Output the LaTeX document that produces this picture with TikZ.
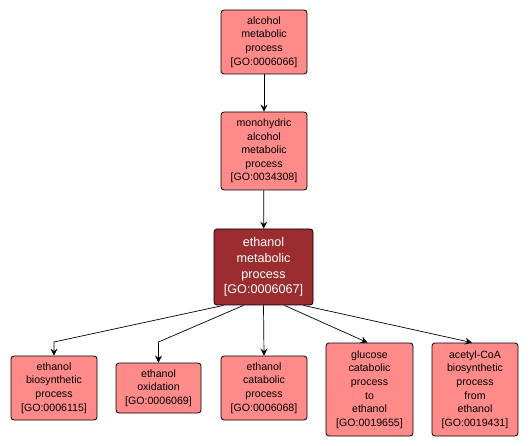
\documentclass[tikz,border=0pt]{standalone}
\usepackage{fontspec}
\setmainfont{Liberation Sans}
\usepackage{tikz}
\usetikzlibrary{arrows.meta, positioning, calc}

\definecolor{goLight}{RGB}{255,138,138}
\definecolor{goDark}{RGB}{155,45,48}

\begin{document}
\begin{tikzpicture}[x=1pt, y=-1pt, >=Stealth, line width=0.8pt,
  goterm/.style={draw=black, fill=goLight, rounded corners=3pt, align=center,
    inner sep=0pt, minimum width=86pt, font=\fontsize{10.6}{13.6}\selectfont},
  goself/.style={goterm, fill=goDark, text=white, minimum width=99pt,
    font=\fontsize{12.6}{15.6}\selectfont},
  arr/.style={-{Stealth[length=7pt, width=7pt, inset=2.5pt]}, line width=0.7pt}]
\useasboundingbox (0,0) rectangle (530,446);

% Ancestor terms
\node[goterm, minimum height=64pt] (alc) at (264,42) {alcohol\\metabolic\\process\\{}[GO:0006066]};
\node[goterm, minimum height=78pt] (mono) at (264,151) {monohydric\\alcohol\\metabolic\\process\\{}[GO:0034308]};

% Selected term
\node[goself, minimum height=76pt] (emp) at (263.5,267) {ethanol\\metabolic\\process\\{}[GO:0006067]};

% Child terms
\node[goterm, minimum height=64pt] (bio) at (54,388) {ethanol\\biosynthetic\\process\\{}[GO:0006115]};
\node[goterm, minimum width=85pt, minimum height=50pt] (oxi) at (158.5,388) {ethanol\\oxidation\\{}[GO:0006069]};
\node[goterm, minimum height=64pt] (cat) at (264,388) {ethanol\\catabolic\\process\\{}[GO:0006068]};
\node[goterm, minimum width=87pt, minimum height=93pt] (glu) at (369.5,389.5) {glucose\\catabolic\\process\\to\\ethanol\\{}[GO:0019655]};
\node[goterm, minimum height=93pt] (ace) at (475,389.5) {acetyl-CoA\\biosynthetic\\process\\from\\ethanol\\{}[GO:0019431]};

% Bends of the two left edges
\coordinate (bioBend) at (54,342);
\coordinate (oxiBend) at (158.5,342);

% Edges
\draw[arr] (alc) -- (mono);
\draw[arr] (mono) -- (emp);
\draw[arr] ([xshift=-40pt]emp.south) -- (bioBend) -- (bio.north);
\draw[arr] ([xshift=-20pt]emp.south) -- (oxiBend) -- (oxi.north);
\draw[arr] (emp.south) -- (cat.north);
\draw[arr] ([xshift=21pt]emp.south) -- ([xshift=-2pt]glu.north);
\draw[arr] ([xshift=40pt]emp.south) -- ([xshift=-3pt]ace.north);
\end{tikzpicture}
\end{document}
